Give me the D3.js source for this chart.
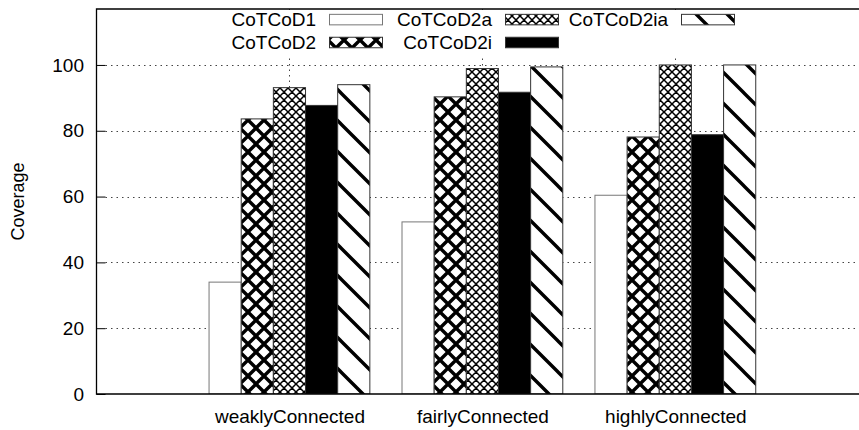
<!DOCTYPE html>
<html>
<head>
<meta charset="utf-8">
<script src="https://cdn.jsdelivr.net/npm/d3@7"></script>
<style>
  html, body { margin: 0; padding: 0; background: #fff; }
  svg { display: block; font-family: "Liberation Sans", Arial, Helvetica, sans-serif; }
</style>
</head>
<body>
<svg id="chart" width="859" height="430"></svg>
<script>
// Coverage per network connectivity class, one series per algorithm variant
const categories = ["weaklyConnected", "fairlyConnected", "highlyConnected"];
const seriesNames = ["CoTCoD1", "CoTCoD2", "CoTCoD2a", "CoTCoD2i", "CoTCoD2ia"];
const CoTCoD1 = [34.0, 52.3, 60.4];
const CoTCoD2 = [83.6, 90.3, 78.1];
const CoTCoD2a = [93.1, 98.9, 100.0];
const CoTCoD2i = [87.7, 91.7, 78.8];
const CoTCoD2ia = [94.0, 99.4, 100.0];
const yTicks = [0, 20, 40, 60, 80, 100];
const yLabel = "Coverage";

const seriesValues = [CoTCoD1, CoTCoD2, CoTCoD2a, CoTCoD2i, CoTCoD2ia];
const fills = ["#fff", "url(#hatchHeavy)", "url(#hatchFine)", "#000", "url(#diagBack)"];

const W = 859, H = 430;
const plotLeft = 96.5, plotTop = 9, plotBottom = 394;
const svg = d3.select("#chart");

// group index scale: one empty group slot on either side of the data
const x = d3.scaleLinear().domain([-1, 3]).range([plotLeft, 868.3]);
const y = d3.scaleLinear().domain([0, 117]).range([plotBottom, plotTop]);
const groupW = x(1) - x(0);
const barW = groupW / 6;

// fill patterns
const defs = svg.append("defs");
function pattern(id, size, d, sw) {
  const p = defs.append("pattern").attr("id", id)
    .attr("patternUnits", "userSpaceOnUse")
    .attr("width", size).attr("height", size);
  p.append("rect").attr("width", size).attr("height", size).attr("fill", "#fff");
  p.append("path").attr("d", d).attr("stroke", "#000").attr("stroke-width", sw).attr("fill", "none");
}
function crossPath(s) {
  const h = s / 2;
  return `M0,0L${s},${s} M${h},${-h}L${s + h},${h} M${-h},${h}L${h},${s + h}` +
         ` M0,${s}L${s},0 M${-h},${h}L${h},${-h} M${h},${s + h}L${s + h},${h}`;
}
function backslashPath(s) {
  const h = s / 2;
  return `M0,0L${s},${s} M${h},${-h}L${s + h},${h} M${-h},${h}L${h},${s + h}`;
}
pattern("hatchHeavy", 16, crossPath(16), 3.4);
pattern("hatchFine", 8, crossPath(8), 1.5);
pattern("diagBack", 31, backslashPath(31), 3.4);

// clip for plot area
defs.append("clipPath").attr("id", "plotClip")
  .append("rect").attr("x", plotLeft).attr("y", plotTop)
  .attr("width", W - plotLeft).attr("height", plotBottom - plotTop);

const plot = svg.append("g").attr("clip-path", "url(#plotClip)");

// grid lines
plot.append("g").selectAll("line").data(yTicks.filter(t => t > 0)).join("line")
  .attr("x1", plotLeft + 9).attr("x2", W)
  .attr("y1", d => Math.round(y(d)) + 0.5).attr("y2", d => Math.round(y(d)) + 0.5)
  .attr("stroke", "#444").attr("stroke-width", 1).attr("stroke-dasharray", "1.5,4");
plot.append("g").selectAll("line").data(categories.map((c, i) => i)).join("line")
  .attr("x1", d => Math.round(x(d)) + 0.5).attr("x2", d => Math.round(x(d)) + 0.5)
  .attr("y1", plotTop).attr("y2", plotBottom)
  .attr("stroke", "#444").attr("stroke-width", 1).attr("stroke-dasharray", "1.5,4");

// bars
seriesValues.forEach((vals, j) => {
  plot.append("g").selectAll("rect").data(vals).join("rect")
    .attr("x", (v, i) => x(i) + (j - 2.5) * barW)
    .attr("width", barW)
    .attr("y", v => y(v))
    .attr("height", v => y(0) - y(v))
    .attr("fill", fills[j])
    .attr("stroke", j === 0 ? "#777" : "#333")
    .attr("stroke-width", 1);
});

// key (opaque box, no border)
const key = svg.append("g");
key.append("rect").attr("x", 222).attr("y", plotTop + 1).attr("width", 525).attr("height", 46).attr("fill", "#fff");
const colTextRight = [316, 492, 668];
const rowMid = [19.6, 42.5];
const sampleW = 53, sampleH = 10.5;
seriesNames.forEach((name, k) => {
  const col = Math.floor(k / 2), row = k % 2;
  const tx = colTextRight[col], ty = rowMid[row];
  key.append("text").attr("x", tx).attr("y", ty).attr("dy", "0.36em")
    .attr("text-anchor", "end").attr("font-size", 19).attr("fill", "#000").text(name);
  key.append("rect").attr("x", tx + 13.5).attr("y", ty - sampleH / 2)
    .attr("width", sampleW).attr("height", sampleH)
    .attr("fill", fills[k]).attr("stroke", k === 0 ? "#777" : "#333").attr("stroke-width", 1);
});

// border (left, top, bottom; the right edge falls outside the view)
svg.append("path")
  .attr("d", `M${W},${plotTop}H${plotLeft}V${plotBottom}H${W}`)
  .attr("fill", "none").attr("stroke", "#000").attr("stroke-width", 1.3);

// y axis
const yAxis = d3.axisLeft(y).tickValues(yTicks).tickSizeInner(-9).tickSizeOuter(0).tickPadding(12);
const ya = svg.append("g").attr("transform", `translate(${plotLeft},0)`).call(yAxis);
ya.select(".domain").remove();
ya.selectAll(".tick line").attr("stroke", "#000");
ya.selectAll(".tick text").attr("font-size", 19).attr("fill", "#000")
  .attr("font-family", "Liberation Sans, Arial, sans-serif").attr("x", -12.5);

// x axis labels
const xAxis = d3.axisBottom(x).tickValues(categories.map((c, i) => i))
  .tickFormat(i => categories[i]).tickSize(0).tickPadding(16);
const xa = svg.append("g").attr("transform", `translate(0,${plotBottom})`).call(xAxis);
xa.select(".domain").remove();
xa.selectAll(".tick text").attr("font-size", 19).attr("fill", "#000")
  .attr("font-family", "Liberation Sans, Arial, sans-serif");

// y label
svg.append("text")
  .attr("transform", `translate(24,${(plotTop + plotBottom) / 2}) rotate(-90)`)
  .attr("text-anchor", "middle").attr("font-size", 18).attr("fill", "#000").text(yLabel);
</script>
</body>
</html>
